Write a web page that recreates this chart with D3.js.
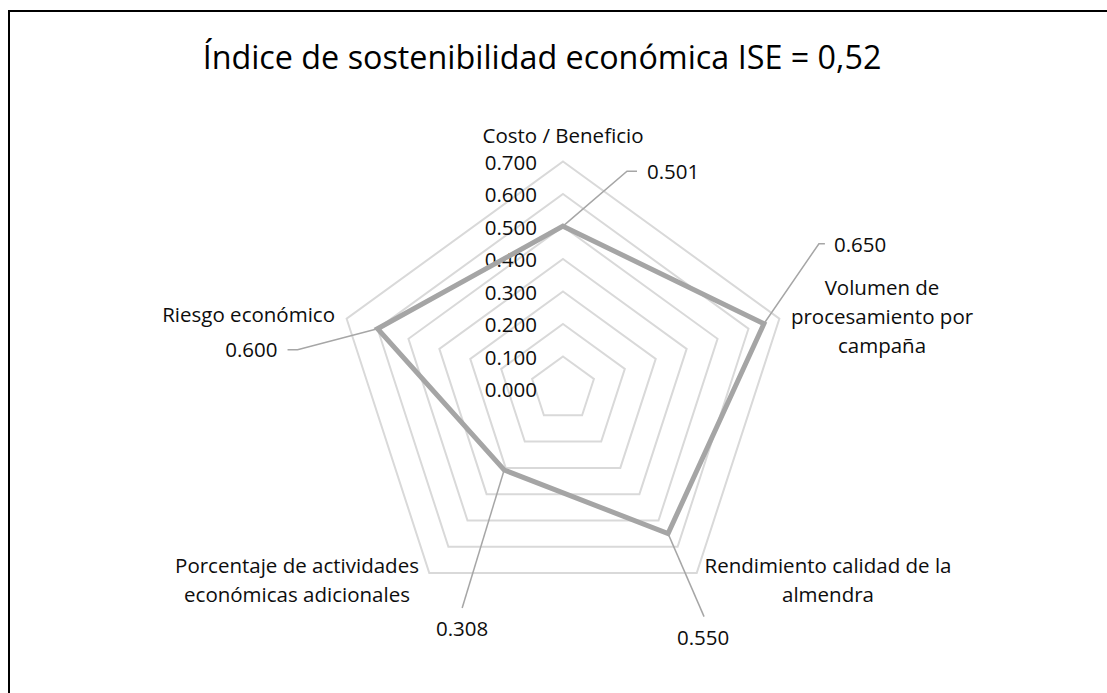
<!DOCTYPE html>
<html>
<head>
<meta charset="utf-8">
<script src="https://cdn.jsdelivr.net/npm/d3@7"></script>
<style>
  html, body { margin: 0; padding: 0; background: #fff; }
  svg { display: block; font-family: "Open Sans", sans-serif; }
</style>
</head>
<body>
<svg id="chart" width="1107" height="693"></svg>
<script>
// Data
const TITLE = "Índice de sostenibilidad económica ISE = 0,52";
const categories = [
  ["Costo / Beneficio"],
  ["Volumen de", "procesamiento por", "campaña"],
  ["Rendimiento calidad de la", "almendra"],
  ["Porcentaje de actividades", "económicas adicionales"],
  ["Riesgo económico"]
];
const values = [0.501, 0.650, 0.550, 0.308, 0.600];
const tickValues = [0, 0.1, 0.2, 0.3, 0.4, 0.5, 0.6, 0.7];

// Layout (pixel offsets from the chart centre / from each point)
const cx = 563, cy = 389, R = 227.5;
const catLayout = [
  { x: 0, y: -246, anchor: "middle" },
  { x: 319, y: -94, anchor: "middle" },
  { x: 265, y: 184, anchor: "middle" },
  { x: -266, y: 184, anchor: "middle" },
  { x: -228, y: -67, anchor: "end" }
];
const lineGap = 29;
// leader: elbow, end of leader, text position
const labelLayout = [
  { elbow: [64, -55], end: [74, -55], text: [84, -47], anchor: "start" },
  { elbow: [55, -80], end: [61, -80], text: [70, -72], anchor: "start" },
  { elbow: [36, 83], end: [36, 83], text: [35, 111], anchor: "middle" },
  { elbow: [-42, 138], end: [-42, 138], text: [-42, 166], anchor: "middle" },
  { elbow: [-80, 21], end: [-90, 21], text: [-100, 28], anchor: "end" }
];

const svg = d3.select("#chart");
const TEXT = "#0d0d0d";
const FS = 20.5;

// chart border
svg.append("path")
  .attr("d", "M9,700 L9,11 L1110,11")
  .attr("fill", "none")
  .attr("stroke", "#000")
  .attr("stroke-width", 2);

svg.append("text")
  .attr("x", 542)
  .attr("y", 69)
  .attr("text-anchor", "middle")
  .attr("font-size", 32.3)
  .attr("fill", "#000")
  .text(TITLE);

const r = d3.scaleLinear().domain([0, 0.7]).range([0, R]);
const n = categories.length;
const angle = i => (i * 2 * Math.PI) / n;
const pt = (i, v) => [cx + r(v) * Math.sin(angle(i)), cy - r(v) * Math.cos(angle(i))];

const line = d3.line().curve(d3.curveLinearClosed);

// grid rings
const g = svg.append("g");
g.selectAll("path.ring")
  .data(tickValues.slice(1))
  .join("path")
  .attr("class", "ring")
  .attr("d", v => line(d3.range(n).map(i => pt(i, v))))
  .attr("fill", "none")
  .attr("stroke", "#d9d9d9")
  .attr("stroke-width", 2);

// tick labels
g.selectAll("text.tick")
  .data(tickValues)
  .join("text")
  .attr("class", "tick")
  .attr("x", cx - 26)
  .attr("y", v => cy - r(v) + 8)
  .attr("text-anchor", "end")
  .attr("font-size", FS)
  .attr("fill", TEXT)
  .text(d3.format(".3f"));

// series
g.append("path")
  .attr("d", line(values.map((v, i) => pt(i, v))))
  .attr("fill", "none")
  .attr("stroke", "#a5a5a5")
  .attr("stroke-width", 5)
  .attr("stroke-linejoin", "miter");

// leader lines + data labels
values.forEach((v, i) => {
  const [px, py] = pt(i, v);
  const L = labelLayout[i];
  g.append("polyline")
    .attr("points", [[px, py], [px + L.elbow[0], py + L.elbow[1]], [px + L.end[0], py + L.end[1]]].map(p => p.join(",")).join(" "))
    .attr("fill", "none")
    .attr("stroke", "#a6a6a6")
    .attr("stroke-width", 1.5);
  g.append("text")
    .attr("x", px + L.text[0])
    .attr("y", py + L.text[1])
    .attr("text-anchor", L.anchor)
    .attr("font-size", FS)
    .attr("fill", TEXT)
    .text(d3.format(".3f")(v));
});

// category labels
categories.forEach((lines, i) => {
  const c = catLayout[i];
  const t = g.append("text")
    .attr("text-anchor", c.anchor)
    .attr("font-size", FS)
    .attr("fill", TEXT);
  lines.forEach((s, k) => {
    t.append("tspan")
      .attr("x", cx + c.x)
      .attr("y", cy + c.y + k * lineGap)
      .text(s);
  });
});
</script>
</body>
</html>
